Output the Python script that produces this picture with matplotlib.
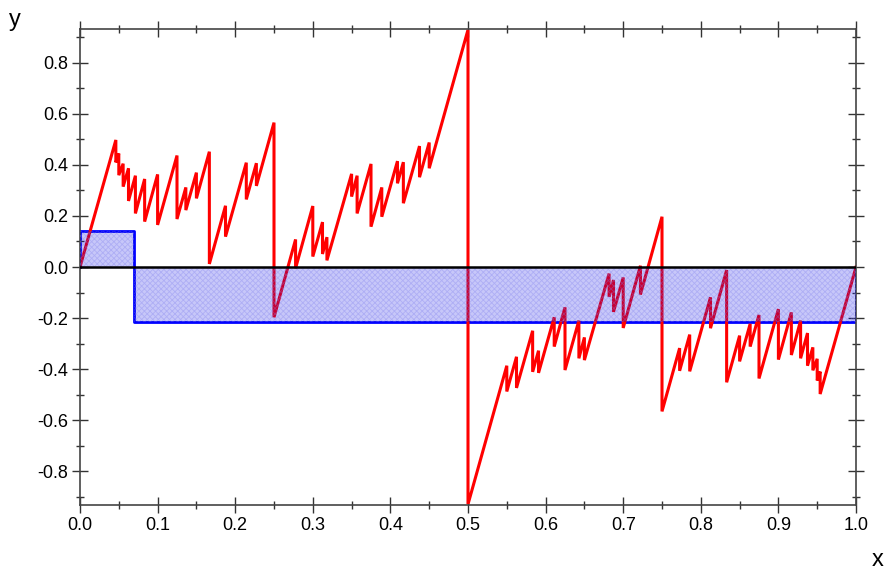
import numpy as np
import matplotlib
matplotlib.use('Agg')
import matplotlib.pyplot as plt
from matplotlib.ticker import MultipleLocator, FormatStrFormatter

plt.rcParams['font.family'] = ['Liberation Sans', 'DejaVu Sans']
plt.rcParams['axes.unicode_minus'] = False
plt.rcParams['hatch.linewidth'] = 0.6

# Red curve: rises between jumps, drops vertically at each jump point
# (value just before and just after each jump)
jump_x = [0.0462, 0.0500, 0.0556, 0.0625, 0.0714, 0.0833, 0.1000, 0.1250,
          0.1364, 0.1500, 0.1667, 0.1875, 0.2143, 0.2273, 0.2500, 0.2778,
          0.3000, 0.3125, 0.3182, 0.3500, 0.3571, 0.3750, 0.3889, 0.4091,
          0.4167, 0.4375, 0.4500, 0.5000,
          0.5500, 0.5625, 0.5833, 0.5909, 0.6111, 0.6250, 0.6429, 0.6500,
          0.6818, 0.6875, 0.7000, 0.7222, 0.7500, 0.7727, 0.7857, 0.8125,
          0.8333, 0.8500, 0.8636, 0.8750, 0.9000, 0.9167, 0.9286, 0.9375,
          0.9444, 0.9500, 0.9538]
y_before = [0.498, 0.445, 0.405, 0.387, 0.358, 0.345, 0.363, 0.437,
            0.312, 0.370, 0.452, 0.240, 0.409, 0.407, 0.566, 0.108,
            0.239, 0.176, 0.117, 0.365, 0.358, 0.404, 0.312, 0.415,
            0.411, 0.474, 0.488, 0.930,
            -0.387, -0.352, -0.250, -0.328, -0.197, -0.158, -0.210, -0.276,
            -0.026, -0.051, -0.041, 0.005, 0.197, -0.318, -0.265, -0.119,
            -0.012, -0.269, -0.223, -0.188, -0.165, -0.178, -0.210, -0.259,
            -0.315, -0.360, -0.410]
y_after = [0.410, 0.360, 0.315, 0.259, 0.210, 0.178, 0.165, 0.188,
           0.223, 0.269, 0.012, 0.119, 0.265, 0.318, -0.197, -0.005,
           0.041, 0.051, 0.026, 0.276, 0.210, 0.158, 0.197, 0.328,
           0.250, 0.352, 0.387, -0.930,
           -0.488, -0.474, -0.411, -0.415, -0.312, -0.404, -0.358, -0.365,
           -0.117, -0.176, -0.239, -0.108, -0.566, -0.407, -0.409, -0.240,
           -0.452, -0.370, -0.312, -0.437, -0.363, -0.345, -0.358, -0.387,
           -0.405, -0.445, -0.498]
curve_start = (0.0, 0.0)
curve_end = (1.0, 0.0)

# Blue step region
step_edges = [0.0, 0.07, 1.0]
step_vals = [0.141, -0.214]

# build the red path
xs = [curve_start[0]]
ys = [curve_start[1]]
for jx, yb, ya in zip(jump_x, y_before, y_after):
    xs += [jx, jx]
    ys += [yb, ya]
xs.append(curve_end[0])
ys.append(curve_end[1])

fig = plt.figure(figsize=(8.88, 5.74), dpi=100)
ax = fig.add_axes([80/888, 69/574, 776/888, 476/574])

ax.plot(xs, ys, color='#ff0000', lw=2.2, zorder=2, solid_joinstyle='miter')

# step outline and fill
sx = [step_edges[0], step_edges[0], step_edges[1], step_edges[1], step_edges[2], step_edges[2]]
sy = [0, step_vals[0], step_vals[0], step_vals[1], step_vals[1], 0]
ax.fill_between(step_edges, [step_vals[0], step_vals[1], step_vals[1]], 0,
                step='post', facecolor='#0000e6', alpha=0.22, lw=0, zorder=3)
ax.fill_between(step_edges, [step_vals[0], step_vals[1], step_vals[1]], 0,
                step='post', facecolor='none', edgecolor='#8080ee', hatch='xxxxxx',
                lw=0, zorder=3.1, alpha=0.35)
ax.plot(sx, sy, color='#0000ff', lw=2.0, zorder=1.5)
ax.axhline(0, color='black', lw=1.8, zorder=4)

ax.set_xlim(0, 1)
ax.set_ylim(-0.933, 0.933)
ax.xaxis.set_major_locator(MultipleLocator(0.1))
ax.xaxis.set_minor_locator(MultipleLocator(0.05))
ax.yaxis.set_major_locator(MultipleLocator(0.2))
ax.yaxis.set_minor_locator(MultipleLocator(0.1))
ax.xaxis.set_major_formatter(FormatStrFormatter('%.1f'))
ax.yaxis.set_major_formatter(FormatStrFormatter('%.1f'))

ax.tick_params(which='both', direction='inout', top=True, right=True,
               color='#333333', width=1, labelsize=13, pad=3)
ax.tick_params(which='major', length=11)
ax.tick_params(which='minor', length=6)
for s in ax.spines.values():
    s.set_color('#444444')
    s.set_linewidth(1.2)

fig.text(15/888, 1 - 20/574, 'y', fontsize=17, ha='center', va='center')
fig.text(878/888, 1 - 560/574, 'x', fontsize=17, ha='center', va='center')

fig.savefig('out.png', dpi=100)
